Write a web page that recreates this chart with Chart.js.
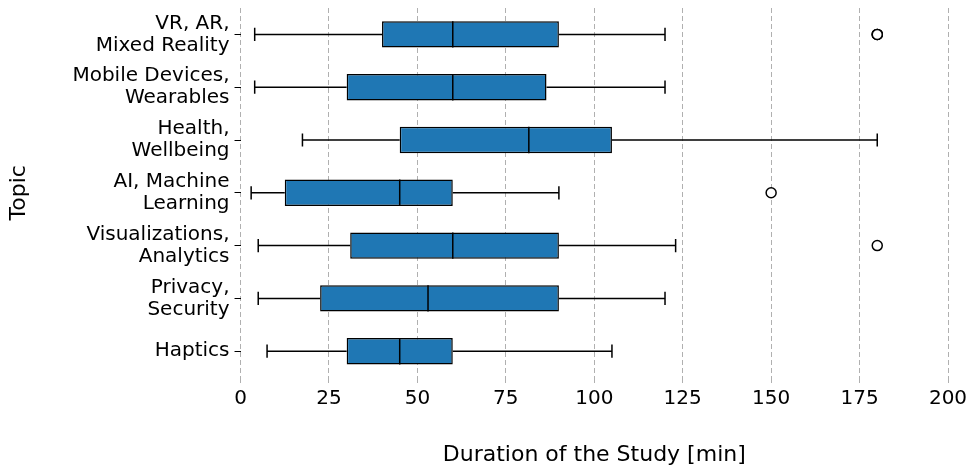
<!DOCTYPE html>
<html>
<head>
<meta charset="utf-8">
<script src="https://cdn.jsdelivr.net/npm/chart.js@4/dist/chart.umd.min.js"></script>
<style>
  body { margin: 0; background: #fff; }
</style>
</head>
<body>
<canvas id="boxChart" width="969" height="468"></canvas>
<script>
// data (minutes)
const topics = [
  ['VR, AR,', 'Mixed Reality'],
  ['Mobile Devices,', 'Wearables'],
  ['Health,', 'Wellbeing'],
  ['AI, Machine', 'Learning'],
  ['Visualizations,', 'Analytics'],
  ['Privacy,', 'Security'],
  'Haptics'
];
const whiskerLow  = [4, 4, 17.5, 3, 5, 5, 7.5];
const q1          = [40, 30, 45, 12.5, 31, 22.5, 30];
const medians     = [60, 60, 81.5, 45, 60, 53, 45];
const q3          = [90, 86.5, 105, 60, 90, 90, 60];
const whiskerHigh = [120, 120, 180, 90, 123, 120, 105];
const outliers    = [[180, 180, 180], [], [], [150], [180], [], []];
const xTicks      = [0, 25, 50, 75, 100, 125, 150, 175, 200];

Chart.defaults.font.family = 'DejaVu Sans';
Chart.defaults.font.size = 20;
Chart.defaults.color = '#000';

// whiskers, caps, medians and fliers drawn on top of the boxes
const boxExtras = {
  id: 'boxExtras',
  afterDatasetsDraw(chart) {
    const ctx = chart.ctx;
    const x = chart.scales.x;
    const y = chart.scales.y;
    const bars = chart.getDatasetMeta(0).data;
    ctx.save();
    ctx.strokeStyle = '#000';
    ctx.lineWidth = 1.5;
    topics.forEach(function (t, i) {
      const cy = y.getPixelForValue(i);
      const half = bars[i].height / 2;
      const cap = half / 2;
      ctx.beginPath();
      // whiskers
      ctx.moveTo(x.getPixelForValue(whiskerLow[i]), cy);
      ctx.lineTo(x.getPixelForValue(q1[i]), cy);
      ctx.moveTo(x.getPixelForValue(q3[i]), cy);
      ctx.lineTo(x.getPixelForValue(whiskerHigh[i]), cy);
      // caps
      ctx.moveTo(x.getPixelForValue(whiskerLow[i]), cy - cap);
      ctx.lineTo(x.getPixelForValue(whiskerLow[i]), cy + cap);
      ctx.moveTo(x.getPixelForValue(whiskerHigh[i]), cy - cap);
      ctx.lineTo(x.getPixelForValue(whiskerHigh[i]), cy + cap);
      // median
      ctx.moveTo(x.getPixelForValue(medians[i]), cy - half);
      ctx.lineTo(x.getPixelForValue(medians[i]), cy + half);
      ctx.stroke();
      // fliers
      outliers[i].forEach(function (v) {
        ctx.beginPath();
        ctx.arc(x.getPixelForValue(v), cy, 5, 0, Math.PI * 2);
        ctx.fillStyle = '#fff';
        ctx.fill();
        ctx.stroke();
      });
    });
    ctx.restore();
  }
};

new Chart(document.getElementById('boxChart'), {
  type: 'bar',
  data: {
    labels: topics,
    datasets: [{
      data: q1.map(function (v, i) { return [v, q3[i]]; }),
      backgroundColor: '#1f77b4',
      borderColor: '#000',
      borderWidth: 1.5,
      borderSkipped: false,
      barPercentage: 0.5,
      categoryPercentage: 1
    }]
  },
  options: {
    indexAxis: 'y',
    responsive: false,
    animation: false,
    layout: { padding: { top: 8, right: 21, left: 0, bottom: 0 } },
    plugins: {
      legend: { display: false },
      tooltip: { enabled: false }
    },
    scales: {
      x: {
        type: 'linear',
        min: 0,
        max: 200,
        afterBuildTicks: function (axis) {
          axis.ticks = xTicks.map(function (v) { return { value: v }; });
        },
        border: { display: false, dash: [5, 3] },
        grid: {
          color: '#b0b0b0',
          lineWidth: 1,
          tickLength: 8,
          tickColor: '#b0b0b0',
          tickBorderDash: [5, 3]
        },
        ticks: { padding: 1 },
        title: {
          display: true,
          text: 'Duration of the Study [min]',
          font: { size: 22 },
          padding: { top: 30, bottom: 0 }
        }
      },
      y: {
        afterFit: function (axis) {
          axis.paddingTop = 0;
          axis.paddingBottom = 0;
        },
        border: { display: false },
        grid: {
          offset: false,
          drawOnChartArea: false,
          tickLength: 6,
          tickColor: '#000'
        },
        ticks: { padding: 5, font: { lineHeight: 1.1 } },
        title: {
          display: true,
          text: 'Topic',
          font: { size: 22 },
          padding: { top: 6, bottom: 35 }
        }
      }
    }
  },
  plugins: [boxExtras]
});
</script>
</body>
</html>
